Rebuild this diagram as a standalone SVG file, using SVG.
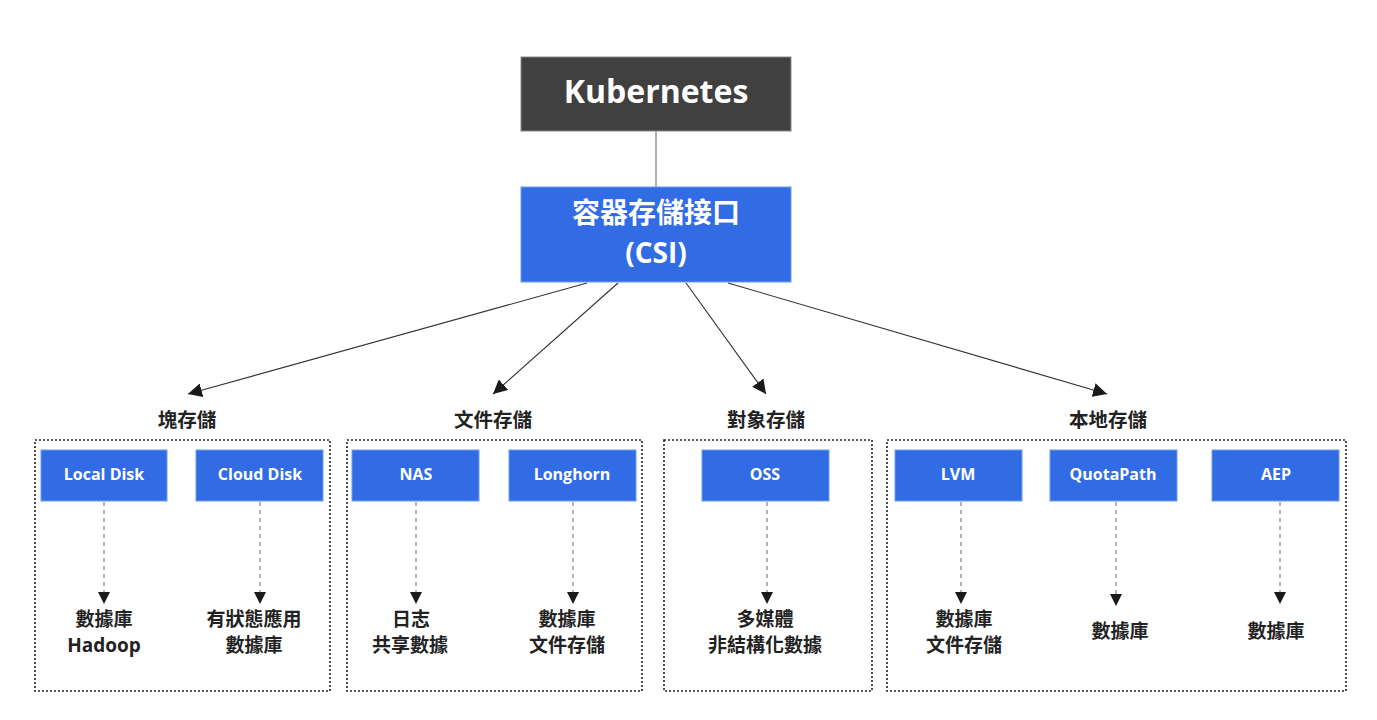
<svg xmlns="http://www.w3.org/2000/svg" width="1377" height="720" viewBox="0 0 1377 720">
<style>
text{font-family:"Open Sans","Noto Sans CJK TC",sans-serif;font-weight:bold;text-anchor:middle}
.k{fill:#ffffff;font-size:32px}
.csi{fill:#ffffff;font-size:28px}
.b{fill:#326ce5;stroke:#6d9eeb;stroke-width:1}
.bt{fill:#ffffff;font-size:16px}
.g{fill:none;stroke:#222;stroke-width:1.6;stroke-dasharray:2 2}
.gl{fill:#222;font-size:19.5px}
.t{fill:#222;font-size:19px}
.main{stroke:#333;stroke-width:1.1;fill:none;marker-end:url(#ah)}
.dash{stroke:#777;stroke-width:1.1;stroke-dasharray:4 4;fill:none;marker-end:url(#ah2)}
</style>
<defs>
<marker id="ah" viewBox="0 0 10 10" refX="10" refY="5" markerWidth="14" markerHeight="14" markerUnits="userSpaceOnUse" orient="auto"><path d="M0,0 L10,5 L0,10 z" fill="#1a1a1a"/></marker>
<marker id="ah2" viewBox="0 0 10 10" refX="10" refY="5" markerWidth="12" markerHeight="12" markerUnits="userSpaceOnUse" orient="auto"><path d="M0,0 L10,5 L0,10 z" fill="#1a1a1a"/></marker>
</defs>
<rect width="1377" height="720" fill="#ffffff"/>
<g id="connectors">
<line x1="656" y1="131" x2="656" y2="187" stroke="#999" stroke-width="1.5"/>
<line class="main" x1="587" y1="283" x2="188" y2="394"/>
<line class="main" x1="618" y1="283" x2="493" y2="394"/>
<line class="main" x1="686" y1="283" x2="766" y2="394"/>
<line class="main" x1="728" y1="283" x2="1107" y2="394"/>
<line class="dash" x1="104" y1="502" x2="104" y2="604"/>
<line class="dash" x1="260" y1="502" x2="260" y2="604"/>
<line class="dash" x1="416" y1="502" x2="416" y2="604"/>
<line class="dash" x1="573" y1="502" x2="573" y2="604"/>
<line class="dash" x1="767" y1="502" x2="767" y2="604"/>
<line class="dash" x1="961" y1="502" x2="961" y2="604"/>
<line class="dash" x1="1116" y1="502" x2="1116" y2="606"/>
<line class="dash" x1="1280" y1="502" x2="1280" y2="604"/>
</g>
<g id="kubernetes">
<rect x="521" y="57" width="270" height="74" fill="#404040" stroke="#8a8a8a" stroke-width="1"/>
<text class="k" x="656" y="103">Kubernetes</text>
</g>
<g id="csi">
<rect x="521" y="187" width="270" height="95" fill="#326ce5" stroke="#6d9eeb" stroke-width="1"/>
<text class="csi" x="656" y="223">容器存儲接口</text>
<text class="csi" x="656" y="263">(CSI)</text>
</g>
<g id="block">
<text class="gl" x="187" y="427">塊存儲</text>
<rect class="g" x="35" y="440" width="295" height="251"/>
</g>
<g id="file">
<text class="gl" x="493" y="427">文件存儲</text>
<rect class="g" x="347" y="440" width="295" height="251"/>
</g>
<g id="object">
<text class="gl" x="766" y="427">對象存儲</text>
<rect class="g" x="664" y="440" width="208" height="251"/>
</g>
<g id="local">
<text class="gl" x="1108" y="427">本地存儲</text>
<rect class="g" x="887" y="440" width="459" height="251"/>
</g>
<g id="localdisk">
<rect class="b" x="41" y="450" width="126" height="51"/>
<text class="bt" x="104" y="480">Local Disk</text>
<text class="t" x="104" y="626">數據庫</text>
<text class="t" x="104" y="652">Hadoop</text>
</g>
<g id="clouddisk">
<rect class="b" x="196" y="450" width="127" height="51"/>
<text class="bt" x="260" y="480">Cloud Disk</text>
<text class="t" x="254" y="626">有狀態應用</text>
<text class="t" x="254" y="652">數據庫</text>
</g>
<g id="nas">
<rect class="b" x="352" y="450" width="127" height="51"/>
<text class="bt" x="416" y="480">NAS</text>
<text class="t" x="411" y="626">日志</text>
<text class="t" x="410" y="652">共享數據</text>
</g>
<g id="longhorn">
<rect class="b" x="509" y="450" width="127" height="51"/>
<text class="bt" x="572" y="480">Longhorn</text>
<text class="t" x="567" y="626">數據庫</text>
<text class="t" x="567" y="652">文件存儲</text>
</g>
<g id="oss">
<rect class="b" x="702" y="450" width="127" height="51"/>
<text class="bt" x="765" y="480">OSS</text>
<text class="t" x="765" y="626">多媒體</text>
<text class="t" x="765" y="652">非結構化數據</text>
</g>
<g id="lvm">
<rect class="b" x="895" y="450" width="127" height="51"/>
<text class="bt" x="958" y="480">LVM</text>
<text class="t" x="964" y="626">數據庫</text>
<text class="t" x="964" y="652">文件存儲</text>
</g>
<g id="quotapath">
<rect class="b" x="1050" y="450" width="127" height="51"/>
<text class="bt" x="1113" y="480">QuotaPath</text>
<text class="t" x="1120" y="638">數據庫</text>
</g>
<g id="aep">
<rect class="b" x="1212" y="450" width="127" height="51"/>
<text class="bt" x="1276" y="480">AEP</text>
<text class="t" x="1276" y="638">數據庫</text>
</g>
</svg>
